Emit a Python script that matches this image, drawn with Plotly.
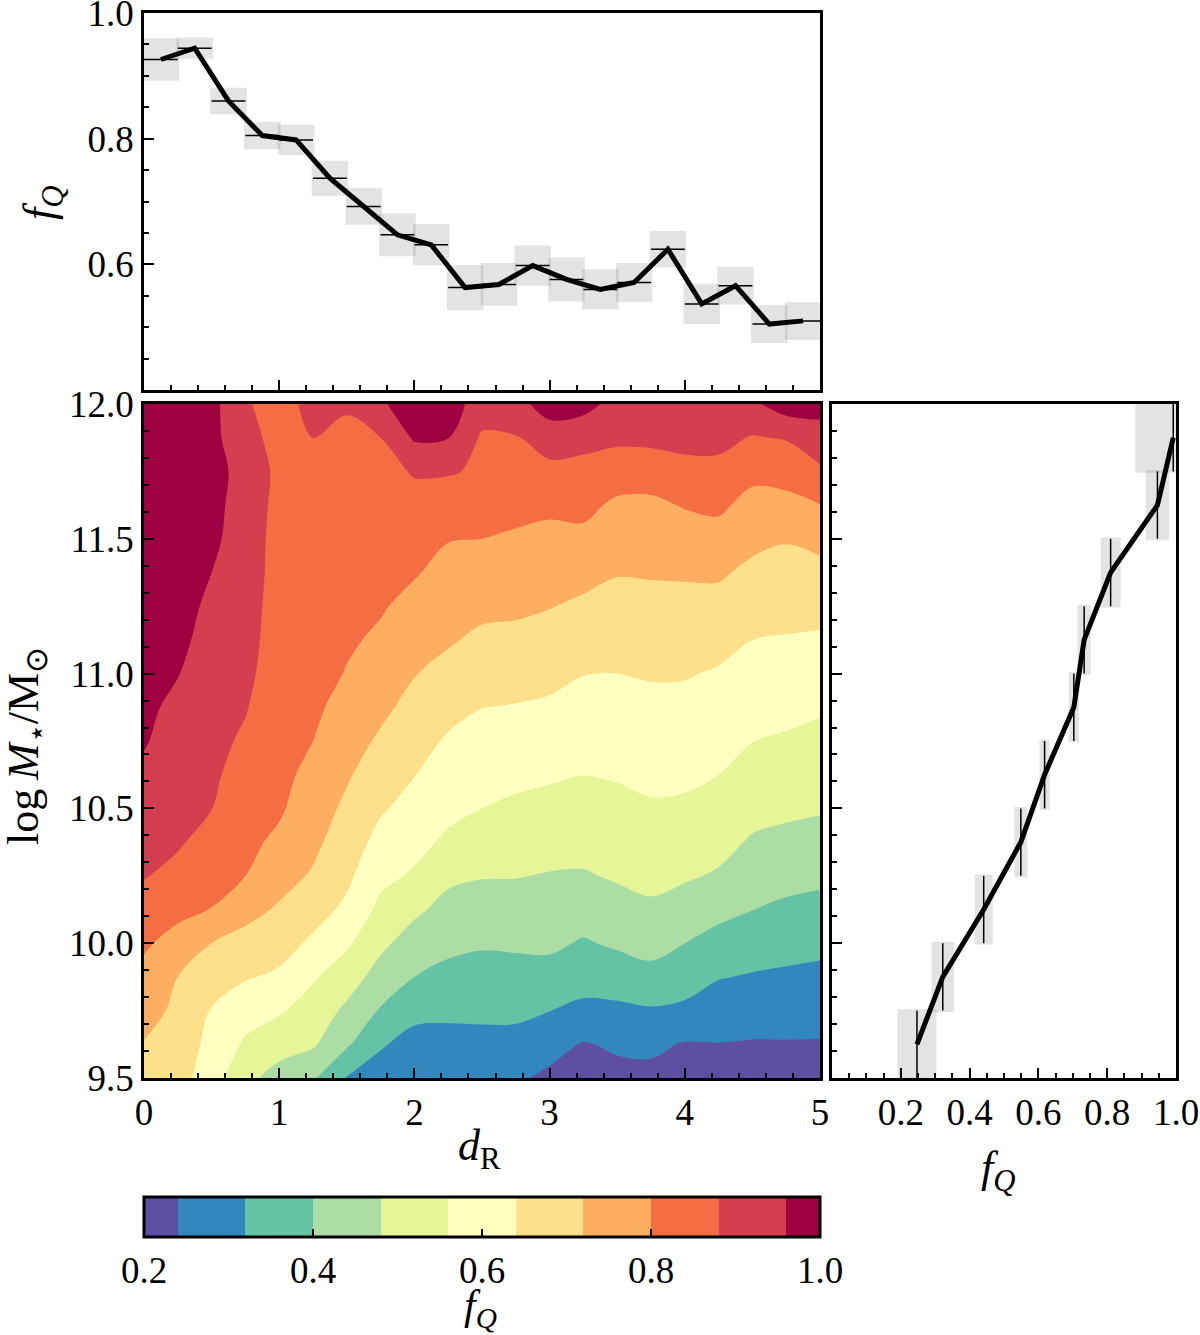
import plotly.graph_objects as go

# ---------------- data ----------------
# contour grid (dR columns, logM rows listed from top 12.0 down to 9.5)
dr_grid = [0.0, 0.25, 0.5, 0.75, 1.0, 1.25, 1.5, 1.75, 2.0, 2.25, 2.5,
           2.75, 3.0, 3.25, 3.5, 3.75, 4.0, 4.25, 4.5, 4.75, 5.0]
logm_grid_top_down = [12.0, 11.875, 11.75, 11.625, 11.5, 11.375, 11.25, 11.125,
                      11.0, 10.875, 10.75, 10.625, 10.5, 10.375, 10.25, 10.125,
                      10.0, 9.875, 9.75, 9.625, 9.5]
fq_grid_top_down = [
    [1.00, 1.00, 0.985, 0.885, 0.86, 0.895, 0.885, 0.95, 1.00, 1.00, 0.92, 0.93, 1.00, 0.99, 0.93, 0.93, 0.93, 0.93, 0.945, 1.00, 0.99],
    [1.00, 1.00, 0.985, 0.90, 0.86, 0.88, 0.87, 0.88, 0.97, 0.962, 0.87, 0.875, 0.915, 0.90, 0.895, 0.90, 0.90, 0.90, 0.875, 0.885, 0.926],
    [1.00, 1.00, 0.985, 0.935, 0.86, 0.87, 0.86, 0.86, 0.885, 0.885, 0.872, 0.85, 0.86, 0.86, 0.84, 0.835, 0.86, 0.86, 0.82, 0.83, 0.868],
    [1.00, 0.995, 0.98, 0.93, 0.855, 0.865, 0.85, 0.85, 0.859, 0.849, 0.826, 0.82, 0.815, 0.82, 0.786, 0.785, 0.805, 0.814, 0.776, 0.777, 0.798],
    [1.00, 0.99, 0.975, 0.925, 0.85, 0.86, 0.84, 0.835, 0.832, 0.803, 0.80, 0.791, 0.78, 0.782, 0.755, 0.755, 0.765, 0.772, 0.738, 0.725, 0.742],
    [0.99, 0.985, 0.96, 0.92, 0.85, 0.855, 0.83, 0.82, 0.806, 0.777, 0.77, 0.762, 0.752, 0.743, 0.724, 0.726, 0.728, 0.73, 0.704, 0.694, 0.699],
    [0.99, 0.98, 0.949, 0.915, 0.845, 0.85, 0.82, 0.807, 0.778, 0.752, 0.738, 0.733, 0.723, 0.707, 0.696, 0.699, 0.699, 0.696, 0.672, 0.665, 0.664],
    [0.98, 0.975, 0.937, 0.91, 0.84, 0.84, 0.81, 0.788, 0.75, 0.728, 0.705, 0.702, 0.691, 0.675, 0.667, 0.673, 0.672, 0.663, 0.64, 0.635, 0.63],
    [0.98, 0.962, 0.926, 0.90, 0.835, 0.83, 0.796, 0.762, 0.723, 0.697, 0.673, 0.669, 0.66, 0.642, 0.64, 0.646, 0.645, 0.633, 0.614, 0.608, 0.599],
    [0.97, 0.949, 0.915, 0.885, 0.83, 0.815, 0.773, 0.737, 0.696, 0.663, 0.641, 0.636, 0.629, 0.615, 0.615, 0.622, 0.621, 0.609, 0.588, 0.58, 0.568],
    [0.965, 0.933, 0.903, 0.868, 0.825, 0.80, 0.751, 0.709, 0.669, 0.631, 0.614, 0.606, 0.599, 0.588, 0.59, 0.599, 0.598, 0.584, 0.561, 0.552, 0.54],
    [0.948, 0.918, 0.892, 0.851, 0.82, 0.779, 0.729, 0.678, 0.642, 0.605, 0.587, 0.577, 0.569, 0.561, 0.566, 0.576, 0.574, 0.56, 0.532, 0.523, 0.513],
    [0.927, 0.903, 0.881, 0.835, 0.81, 0.758, 0.705, 0.649, 0.613, 0.579, 0.56, 0.547, 0.538, 0.533, 0.541, 0.552, 0.548, 0.532, 0.503, 0.494, 0.487],
    [0.905, 0.888, 0.854, 0.818, 0.785, 0.737, 0.681, 0.615, 0.584, 0.546, 0.521, 0.515, 0.507, 0.504, 0.515, 0.525, 0.518, 0.503, 0.472, 0.461, 0.452],
    [0.884, 0.86, 0.827, 0.80, 0.748, 0.712, 0.656, 0.58, 0.55, 0.496, 0.484, 0.483, 0.476, 0.474, 0.488, 0.499, 0.489, 0.472, 0.437, 0.424, 0.416],
    [0.849, 0.82, 0.798, 0.745, 0.711, 0.671, 0.624, 0.541, 0.495, 0.456, 0.446, 0.448, 0.445, 0.434, 0.452, 0.468, 0.447, 0.422, 0.401, 0.386, 0.378],
    [0.811, 0.772, 0.72, 0.694, 0.672, 0.626, 0.572, 0.497, 0.446, 0.419, 0.408, 0.411, 0.414, 0.393, 0.411, 0.426, 0.40, 0.372, 0.357, 0.346, 0.339],
    [0.778, 0.72, 0.683, 0.647, 0.626, 0.569, 0.518, 0.448, 0.40, 0.378, 0.371, 0.373, 0.372, 0.351, 0.359, 0.376, 0.355, 0.324, 0.314, 0.308, 0.302],
    [0.747, 0.705, 0.635, 0.591, 0.569, 0.528, 0.464, 0.393, 0.344, 0.332, 0.334, 0.333, 0.321, 0.302, 0.304, 0.312, 0.304, 0.28, 0.27, 0.271, 0.267],
    [0.716, 0.69, 0.615, 0.55, 0.511, 0.49, 0.411, 0.329, 0.29, 0.30, 0.30, 0.30, 0.266, 0.235, 0.25, 0.255, 0.235, 0.238, 0.235, 0.235, 0.235],
    [0.70, 0.675, 0.595, 0.50, 0.45, 0.41, 0.315, 0.28, 0.27, 0.275, 0.27, 0.25, 0.225, 0.215, 0.22, 0.22, 0.215, 0.22, 0.215, 0.22, 0.225],
]

# top panel: fQ vs dR
dr_bins = [0.125, 0.375, 0.625, 0.875, 1.125, 1.375, 1.625, 1.875, 2.125, 2.375,
           2.625, 2.875, 3.125, 3.375, 3.625, 3.875, 4.125, 4.375, 4.625, 4.875]
fq_dr = [0.926, 0.944, 0.860, 0.805, 0.798, 0.737, 0.692, 0.647, 0.631, 0.563,
         0.568, 0.598, 0.576, 0.560, 0.571, 0.624, 0.537, 0.566, 0.505, 0.510]
fq_dr_err = [0.034, 0.017, 0.021, 0.022, 0.024, 0.028, 0.029, 0.034, 0.033, 0.036,
             0.034, 0.032, 0.035, 0.032, 0.031, 0.029, 0.032, 0.030, 0.030, 0.030]
dr_halfbin = 0.125

# right panel: fQ vs logM
logm_bins = [9.625, 9.875, 10.125, 10.375, 10.625, 10.875, 11.125, 11.375, 11.625, 11.875]
fq_m = [0.247, 0.322, 0.441, 0.549, 0.618, 0.703, 0.733, 0.810, 0.946, 0.992]
fq_m_err = [0.057, 0.033, 0.026, 0.019, 0.015, 0.015, 0.019, 0.029, 0.034, 0.110]
logm_halfbin = 0.125

# colour levels (Spectral, low -> high)
spectral11 = ['#5e4fa2', '#3288bd', '#66c2a5', '#abdda4', '#e6f598', '#ffffbf',
              '#fee08b', '#fdae61', '#f46d43', '#d53e4f', '#9e0142']
cbar_ticks = [0.2, 0.4, 0.6, 0.8, 1.0]

# ---------------- figure ----------------
W, H = 1200, 1335
FONT = "'Liberation Serif', 'Times New Roman', serif"
TICKF = dict(family=FONT, size=37, color="black")
TITLEF = dict(family=FONT, size=44, color="black")


def px_x(p):
    return p / W


def px_y(p):
    return 1 - p / H


fig = go.Figure()

box_fill = "rgba(128,128,128,0.22)"

# top panel gray boxes
fig.add_trace(go.Bar(
    x=dr_bins, y=[2 * e for e in fq_dr_err],
    base=[v - e for v, e in zip(fq_dr, fq_dr_err)],
    width=0.27, marker=dict(color=box_fill, line=dict(width=0)),
    xaxis="x", yaxis="y", showlegend=False, hoverinfo="skip"))
fig.add_trace(go.Scatter(
    x=dr_bins, y=fq_dr, mode="lines",
    line=dict(color="black", width=5),
    error_x=dict(type="constant", value=dr_halfbin, color="black", thickness=1.5, width=0),
    xaxis="x", yaxis="y", showlegend=False))

# main contour
fig.add_trace(go.Contour(
    x=dr_grid, y=logm_grid_top_down[::-1], z=fq_grid_top_down[::-1],
    autocontour=False,
    contours=dict(start=0.24, end=0.96, size=0.08, coloring="fill", showlines=False),
    line=dict(width=0, smoothing=1.0),
    colorscale=[[i / 10, c] for i, c in enumerate(spectral11)],
    colorbar=dict(
        orientation="h", x=px_x(482), xanchor="center",
        y=px_y(1197), yanchor="top",
        len=676, lenmode="pixels", thickness=40, thicknessmode="pixels",
        xpad=0, ypad=0,
        outlinewidth=3, outlinecolor="black",
        tickmode="array", tickvals=cbar_ticks, ticktext=[f"{t:.1f}" for t in cbar_ticks],
        ticks="inside", ticklen=9, tickwidth=2, tickcolor="black",
        tickfont=TICKF),
    xaxis="x2", yaxis="y2", hoverinfo="skip"))

# right panel gray boxes
fig.add_trace(go.Bar(
    y=logm_bins, x=[2 * e for e in fq_m_err],
    base=[v - e for v, e in zip(fq_m, fq_m_err)],
    orientation="h", width=0.26, marker=dict(color=box_fill, line=dict(width=0)),
    xaxis="x3", yaxis="y3", showlegend=False, hoverinfo="skip"))
fig.add_trace(go.Scatter(
    x=fq_m, y=logm_bins, mode="lines",
    line=dict(color="black", width=5),
    error_y=dict(type="constant", value=logm_halfbin, color="black", thickness=1.5, width=0),
    xaxis="x3", yaxis="y3", showlegend=False))

common = dict(showline=True, linecolor="black", linewidth=2.5, mirror=True,
              ticks="inside", ticklen=10, tickwidth=2, tickcolor="black",
              showgrid=False, zeroline=False, tickfont=TICKF, automargin=False,
              ticklabeloverflow="allow")


def minor(d):
    return dict(ticks="inside", ticklen=5, tickwidth=1.5, tickcolor="black", dtick=d, showgrid=False)


xd_left = [px_x(144), px_x(820)]
xd_right = [px_x(832), px_x(1176)]
yd_top = [px_y(390), px_y(13)]
yd_main = [px_y(1078), px_y(404)]

fig.update_layout(
    width=W, height=H, margin=dict(l=0, r=0, t=0, b=0, autoexpand=False),
    paper_bgcolor="white", plot_bgcolor="white",
    font=dict(family=FONT, color="black"),
    barmode="overlay", showlegend=False,
    xaxis=dict(domain=xd_left, anchor="y", range=[0, 5], dtick=1, tick0=0,
               showticklabels=False, minor=minor(0.2), **common),
    yaxis=dict(domain=yd_top, anchor="x", range=[0.4, 1.0], tickmode="array",
               tickvals=[0.4, 0.6, 0.8, 1.0], ticktext=["", "0.6", "0.8", "1.0"],
               minor=minor(0.05), **common),
    xaxis2=dict(domain=xd_left, anchor="y2", range=[0, 5], dtick=1, tick0=0,
                minor=minor(0.2), **common),
    yaxis2=dict(domain=yd_main, anchor="x2", range=[9.5, 12.0], dtick=0.5, tick0=9.5,
                tickformat=".1f", minor=minor(0.1), **common),
    xaxis3=dict(domain=xd_right, anchor="y3", range=[0, 1.0], tickmode="array",
                tickvals=[0.0, 0.2, 0.4, 0.6, 0.8, 1.0],
                ticktext=["", "0.2", "0.4", "0.6", "0.8", "1.0"],
                minor=dict(ticks="inside", ticklen=5, tickwidth=1.5, tickcolor="black",
                           tickmode="linear", tick0=0, dtick=0.05, showgrid=False),
                **common),
    yaxis3=dict(domain=yd_main, anchor="x3", range=[9.5, 12.0], dtick=0.5, tick0=9.5,
                showticklabels=False, minor=minor(0.1), **common),
)

fq_title = "<i>f</i><sub><i>Q</i></sub>"
annos = [
    dict(text=fq_title, x=px_x(42), y=px_y(203), textangle=-90, yanchor="middle", font=TITLEF),
    dict(text="log\u2009<i>M</i><sub>\u22c6</sub>/M<sub>\u2299</sub>", x=px_x(26), y=px_y(746),
         textangle=-90, yanchor="middle", font=TITLEF),
    dict(text="<i>d</i><sub>R</sub>", x=px_x(479), y=px_y(1148), yanchor="middle", font=TITLEF),
    dict(text=fq_title, x=px_x(998), y=px_y(1170), yanchor="middle", font=TITLEF),
    dict(text=fq_title, x=px_x(480), y=px_y(1308), yanchor="middle",
         font=dict(family=FONT, size=42, color="black")),
]
for a in annos:
    fig.add_annotation(xref="paper", yref="paper", showarrow=False, borderpad=0,
                       xanchor="center", **a)

fig.write_html("out.html")
